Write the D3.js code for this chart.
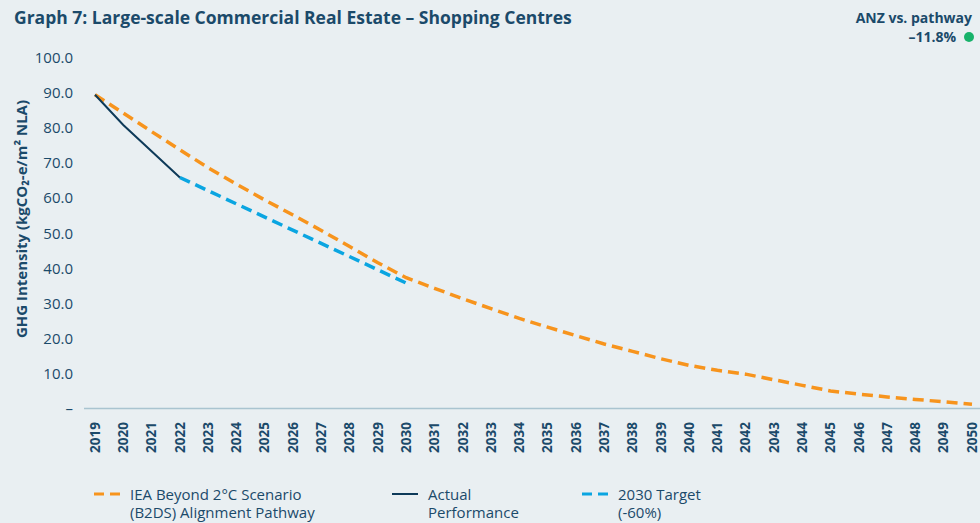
<!DOCTYPE html>
<html>
<head>
<meta charset="utf-8">
<script src="https://cdn.jsdelivr.net/npm/d3@7"></script>
<style>
  html, body { margin: 0; padding: 0; background: #e9eff2; }
  svg { display: block; font-family: "Open Sans", "Noto Sans", sans-serif; }
</style>
</head>
<body>
<svg id="chart"></svg>
<script>
const width = 980
const height = 523

// years on the x axis
const years = d3.range(2019, 2051)

// IEA B2DS alignment pathway, one value per year
const pathway = [89.5, 84.3, 79.0, 73.8, 68.7, 64.0, 59.5, 55.2, 50.8, 46.2, 41.6, 37.3,
                 34.3, 31.3, 28.5, 25.7, 23.2, 20.8, 18.4, 16.3, 14.2, 12.3,
                 10.9, 9.8, 8.2, 6.6, 5.0, 4.1, 3.3, 2.6, 1.9, 1.2]

// actual performance
const actualYears = [2019, 2020, 2022]
const actualValues = [89.5, 80.9, 65.9]

// 2030 target path (-60%)
const targetYears = [2022, 2030]
const targetValues = [65.9, 35.8]

const yTicks = [0, 10, 20, 30, 40, 50, 60, 70, 80, 90, 100]

const legendItems = [
    {lines: ["IEA Beyond 2°C Scenario", "(B2DS) Alignment Pathway"], color: "#f7941d", dash: "10,6", w: 3, x: 94},
    {lines: ["Actual", "Performance"], color: "#0d3a59", dash: null, w: 2, x: 392},
    {lines: ["2030 Target", "(-60%)"], color: "#0aa5e1", dash: "10,6", w: 3, x: 582}
]

const textColor = "#1b4a6a"

const svg = d3.select("#chart")
    .attr("width", width)
    .attr("height", height)
    .attr("viewBox", [0, 0, width, height])

svg.append("rect").attr("width", width).attr("height", height).attr("fill", "#e9eff2")

const x = d3.scaleLinear().domain([2019, 2050]).range([95, 972])
const y = d3.scaleLinear().domain([0, 100]).range([408.5, 58])

// squeeze text to a given width (original uses a condensed face)
function fitText(sel, w){
    sel.each(function(){
        if (this.getComputedTextLength() > w) {
            d3.select(this).attr("textLength", w).attr("lengthAdjust", "spacingAndGlyphs")
        }
    })
}

// title
svg.append("text")
    .attr("x", 14).attr("y", 24)
    .attr("fill", textColor)
    .attr("font-size", 17.5).attr("font-weight", 700)
    .text("Graph 7: Large-scale Commercial Real Estate – Shopping Centres")
    .call(fitText, 591)

// top right badge
svg.append("text")
    .attr("x", 972).attr("y", 23)
    .attr("text-anchor", "end")
    .attr("fill", textColor)
    .attr("font-size", 14).attr("font-weight", 700)
    .text("ANZ vs. pathway")
    .call(fitText, 126)
svg.append("text")
    .attr("x", 956).attr("y", 42)
    .attr("text-anchor", "end")
    .attr("fill", textColor)
    .attr("font-size", 14).attr("font-weight", 700)
    .text("–11.8%")
    .call(fitText, 55)
svg.append("circle")
    .attr("cx", 969).attr("cy", 37).attr("r", 5)
    .attr("fill", "#17b26a")

// y axis labels
svg.append("g")
    .selectAll("text")
    .data(yTicks)
    .join("text")
    .attr("x", 73)
    .attr("y", d => y(d))
    .attr("dy", "0.35em")
    .attr("text-anchor", "end")
    .attr("fill", textColor)
    .attr("font-size", 15)
    .text(d => d === 0 ? "–" : d.toFixed(1))

// y axis title
svg.append("text")
    .attr("transform", "translate(27,219) rotate(-90)")
    .attr("text-anchor", "middle")
    .attr("fill", textColor)
    .attr("font-size", 15).attr("font-weight", 700)
    .text("GHG Intensity (kgCO₂-e/m² NLA)")
    .call(fitText, 238)

// x axis baseline
svg.append("line")
    .attr("x1", 84).attr("x2", 980)
    .attr("y1", y(0)).attr("y2", y(0))
    .attr("stroke", "#a9c4d0").attr("stroke-width", 1.5)

// x axis labels (rotated)
svg.append("g")
    .selectAll("text")
    .data(years)
    .join("text")
    .attr("transform", d => `translate(${x(d)},422) rotate(-90)`)
    .attr("dy", "0.35em")
    .attr("text-anchor", "end")
    .attr("fill", textColor)
    .attr("font-size", 13.5).attr("font-weight", 700)
    .text(d => d)
    .call(fitText, 34)

const line = d3.line().x(d => x(d[0])).y(d => y(d[1]))

svg.append("path")
    .datum(d3.zip(targetYears, targetValues))
    .attr("d", line)
    .attr("fill", "none")
    .attr("stroke", "#0aa5e1").attr("stroke-width", 3.5)
    .attr("stroke-dasharray", "11,6")

svg.append("path")
    .datum(d3.zip(years, pathway))
    .attr("d", line)
    .attr("fill", "none")
    .attr("stroke", "#f7941d").attr("stroke-width", 3.5)
    .attr("stroke-dasharray", "11,6")

svg.append("path")
    .datum(d3.zip(actualYears, actualValues))
    .attr("d", line)
    .attr("fill", "none")
    .attr("stroke", "#0d3a59").attr("stroke-width", 2)

// legend
const legend = svg.append("g")
for (const item of legendItems) {
    legend.append("line")
        .attr("x1", item.x).attr("x2", item.x + 26)
        .attr("y1", 494).attr("y2", 494)
        .attr("stroke", item.color).attr("stroke-width", item.w)
        .attr("stroke-dasharray", item.dash)
    item.lines.forEach((t, i) => {
        legend.append("text")
            .attr("x", item.x + 36).attr("y", 499.5 + i * 18)
            .attr("fill", textColor)
            .attr("font-size", 15)
            .text(t)
    })
}
legend.selectAll("text").filter(function(){ return this.textContent.startsWith("IEA") }).call(fitText, 188)
legend.selectAll("text").filter(function(){ return this.textContent.startsWith("(B2DS)") }).call(fitText, 208)
legend.selectAll("text").filter(function(){ return this.textContent === "Performance" }).call(fitText, 99)
legend.selectAll("text").filter(function(){ return this.textContent === "2030 Target" }).call(fitText, 88)
</script>
</body>
</html>
